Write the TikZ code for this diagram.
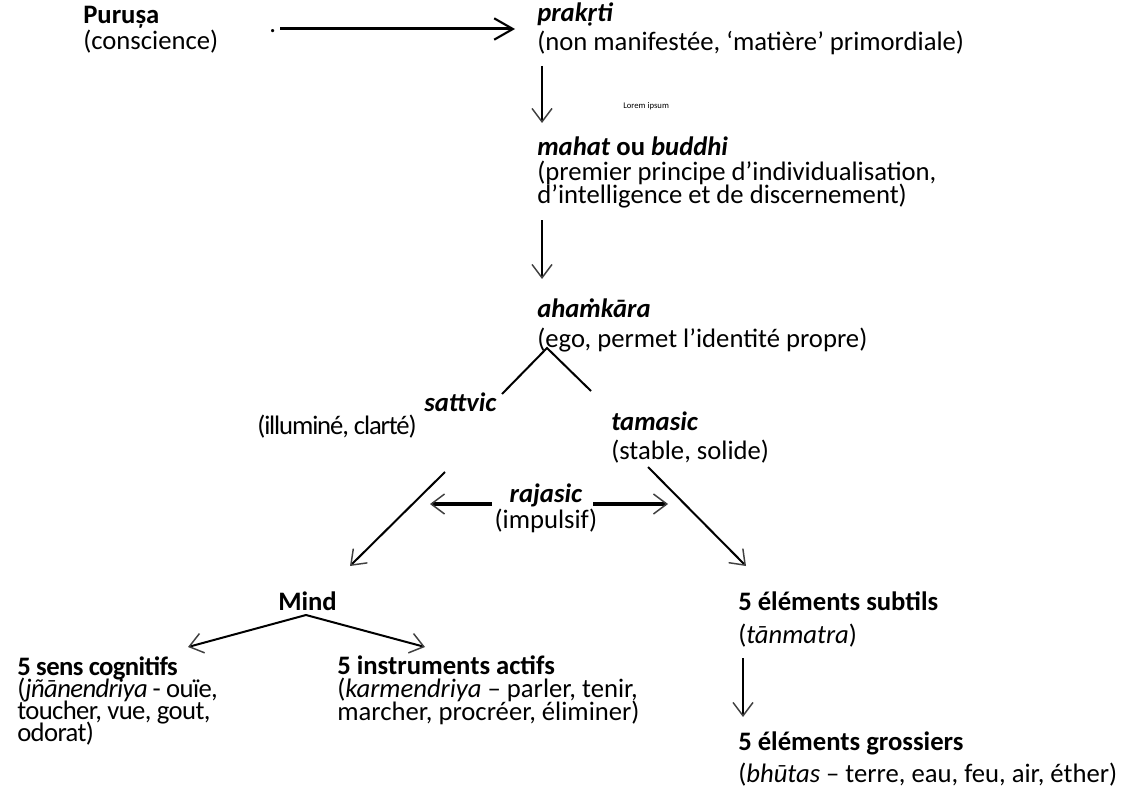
\documentclass[tikz,border=0pt]{standalone}
\usepackage{fontspec}
\setmainfont{Carlito}
\usetikzlibrary{arrows.meta}
\definecolor{headgray}{RGB}{64,64,64}
\newcommand\diagfont{\fontsize{20}{17}\selectfont\lineskiplimit=-100pt\relax}
\newcommand\tightfont{\fontsize{20}{16.5}\selectfont\addfontfeatures{LetterSpace=-2.3}\lineskiplimit=-100pt\relax}
\newcommand\tighterfont{\fontsize{20}{17}\selectfont\addfontfeatures{LetterSpace=-4.2}\lineskiplimit=-100pt\relax}
\begin{document}
\begin{tikzpicture}[x=0.75pt,y=-0.75pt,
  txt/.style={inner sep=0pt, anchor=base west, align=left, font=\diagfont},
  conn/.style={line width=1.5pt, black},
  grayhead/.style={-{Straight Barb[length=10pt,width=15pt,line width=1.1pt,color=headgray]}},
  blackhead/.style={-{Straight Barb[length=14pt,width=16pt,line width=1.6pt,color=black]}}]
\useasboundingbox (0,0) rectangle (1134,788);

% text nodes (anchored at the baseline of their last line)
\node[txt] (purusa) at (83,50) {\textbf{Purușa}\\[3pt](conscience)};
\node[txt] (dot) at (269,33) {.};
\node[txt] (prakrti) at (537,51) {\textbf{\textit{prakṛti}}\\[4.75pt](non manifestée, ‘matière’ primordiale)};
\node[inner sep=0pt, anchor=west, font=\fontsize{6.5}{7}\selectfont] (lorem) at (623,106) {Lorem ipsum};
\node[txt] (mahat) at (537,203) {\textbf{\textit{mahat} ou \textit{buddhi}}\\[1.75pt](premier principe d’individualisation,\\d’intelligence et de discernement)};
\node[txt] (ahamkara) at (537,347) {\textbf{\textit{ahaṁkāra}}\\[5.5pt](ego, permet l’identité propre)};
\node[txt] (sattvic) at (424,411) {\textbf{\textit{sattvic}}};
\node[txt, font=\tighterfont] (sattvicd) at (257,434) {(illuminé, clarté)};
\node[txt] (tamasic) at (611,459) {\textbf{\textit{tamasic}}\\[4.75pt](stable, solide)};
\node[txt, align=center, anchor=base] (rajasic) at (546,528) {\textbf{\textit{rajasic}}\\[2.5pt](impulsif)};
\node[txt] (mind) at (278,610) {\textbf{Mind}};
\node[txt, font=\tightfont] (cogn) at (17,741) {\textbf{5 sens cognitifs}\\(\textit{jñānendriya} - ouïe,\\toucher, vue, gout,\\odorat)};
\node[txt] (instr) at (337,720) {\textbf{5 instruments actifs}\\(\textit{karmendriya} – parler, tenir,\\marcher, procréer, éliminer)};
\node[txt] (subtils) at (738,643) {\textbf{5 éléments subtils}\\[7.75pt](\textit{tānmatra})};
\node[txt] (gross) at (738,782) {\textbf{5 éléments grossiers}\\[7pt](\textit{bhūtas} – terre, eau, feu, air, éther)};

% connector end points
\coordinate (a1s) at (280,29);  \coordinate (a1e) at (515,29);
\coordinate (a2s) at (542,66);  \coordinate (a2e) at (542,123);
\coordinate (a3s) at (542,220); \coordinate (a3e) at (542,279);
\coordinate (apex) at (547,348);
\coordinate (sL) at (502,394);  \coordinate (sR) at (591,391);
\coordinate (dLs) at (445,472); \coordinate (dLe) at (350,566);
\coordinate (dRs) at (648,467); \coordinate (dRe) at (746,566);
\coordinate (rLs) at (492,504); \coordinate (rLe) at (430,504);
\coordinate (rRs) at (593,504); \coordinate (rRe) at (668,504);
\coordinate (mapex) at (306,615);
\coordinate (mL) at (188,647);  \coordinate (mR) at (425,647);
\coordinate (a4s) at (743,658); \coordinate (a4e) at (743,717);

% connectors
\draw[line width=2.25pt, blackhead] (a1s) -- (a1e);
\draw[conn, grayhead] (a2s) -- (a2e);
\draw[conn, grayhead] (a3s) -- (a3e);
\draw[conn] (sL) -- (apex) -- (sR);
\draw[conn, grayhead] (dLs) -- (dLe);
\draw[conn, grayhead] (dRs) -- (dRe);
\draw[line width=3pt, grayhead] (rLs) -- (rLe);
\draw[line width=3pt, grayhead] (rRs) -- (rRe);
\draw[conn, grayhead] (mapex) -- (mL);
\draw[conn, grayhead] (mapex) -- (mR);
\draw[conn, grayhead] (a4s) -- (a4e);
\end{tikzpicture}
\end{document}
